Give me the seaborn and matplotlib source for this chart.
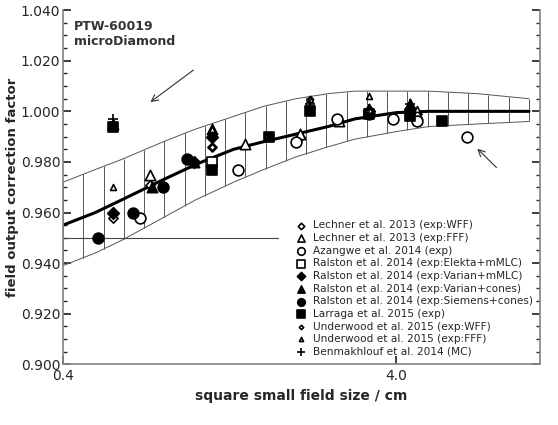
import numpy as np
import matplotlib
matplotlib.use('Agg')
import matplotlib.pyplot as plt
import seaborn as sns
from matplotlib.ticker import FixedLocator, MultipleLocator, NullLocator

sns.set_theme(style='ticks')
plt.rcParams['font.family'] = ['DejaVu Sans']

# fit curve and uncertainty band
fit_x = [0.4, 0.5, 0.6, 0.8, 1.0, 1.3, 1.6, 2.0, 2.5, 3.0, 4.0, 5.0, 7.0, 10.0]
fit_y = [0.955, 0.960, 0.965, 0.973, 0.979, 0.985, 0.988, 0.991, 0.994, 0.997, 0.9995, 1.0, 1.0, 1.0]
up_y = [0.972, 0.977, 0.981, 0.988, 0.993, 0.998, 1.002, 1.005, 1.007, 1.008, 1.008, 1.008, 1.007, 1.005]
lo_y = [0.939, 0.944, 0.949, 0.958, 0.965, 0.972, 0.977, 0.982, 0.986, 0.989, 0.992, 0.994, 0.995, 0.996]

series = {
    'Lechner et al. 2013 (exp:WFF)': ([0.565, 0.565, 0.73, 1.12, 2.06, 2.7, 3.3, 4.6],
                                      [0.960, 0.958, 0.971, 0.986, 0.990, 0.996, 1.000, 0.999]),
    'Lechner et al. 2013 (exp:FFF)': ([0.73, 1.41, 2.06, 2.7, 4.6],
                                      [0.975, 0.987, 0.991, 0.996, 0.999]),
    'Azangwe et al. 2014 (exp)': ([0.68, 1.34, 2.0, 2.65, 3.9, 4.6, 6.5],
                                  [0.958, 0.977, 0.988, 0.997, 0.997, 0.996, 0.990]),
    'Ralston et al. 2014 (exp:Elekta+mMLC)': ([1.12], [0.980]),
    'Ralston et al. 2014 (exp:Varian+mMLC)': ([0.565, 0.99, 1.12, 3.3, 4.4],
                                              [0.960, 0.980, 0.990, 1.000, 1.001]),
    'Ralston et al. 2014 (exp:Varian+cones)': ([0.565, 0.74, 0.99, 1.12, 3.3, 4.4],
                                               [0.995, 0.970, 0.980, 0.993, 1.001, 1.003]),
    'Ralston et al. 2014 (exp:Siemens+cones)': ([0.51, 0.65, 0.8, 0.94, 3.3],
                                                [0.950, 0.960, 0.970, 0.981, 0.999]),
    'Larraga et al. 2015 (exp)': ([0.565, 1.12, 1.66, 2.2, 3.3, 4.4, 5.5],
                                  [0.994, 0.977, 0.990, 1.000, 0.999, 0.998, 0.996]),
    'Underwood et al. 2015 (exp:WFF)': ([1.12, 2.2, 3.3], [0.986, 1.005, 1.000]),
    'Underwood et al. 2015 (exp:FFF)': ([0.565, 1.12, 2.2, 3.3, 4.6],
                                        [0.970, 0.993, 1.005, 1.006, 1.001]),
    'Benmakhlouf et al. 2014 (MC)': ([0.565, 1.12, 2.2, 3.3, 4.4],
                                     [0.997, 0.990, 1.003, 1.001, 1.003]),
}
styles = [
    dict(marker='D', s=22, facecolor='white'),
    dict(marker='^', s=55, facecolor='white'),
    dict(marker='o', s=60, facecolor='white'),
    dict(marker='s', s=55, facecolor='white'),
    dict(marker='D', s=35, facecolor='black'),
    dict(marker='^', s=55, facecolor='black'),
    dict(marker='o', s=60, facecolor='black'),
    dict(marker='s', s=55, facecolor='black'),
    dict(marker='D', s=10, facecolor='white'),
    dict(marker='^', s=18, facecolor='white'),
    dict(marker='+', s=60, facecolor='black'),
]

fig, ax = plt.subplots(figsize=(5.58, 4.25), dpi=100)
fig.subplots_adjust(left=0.113, right=0.968, top=0.976, bottom=0.143)
ax.set_xscale('log')

# band with vertical hatching
ax.plot(fit_x, up_y, color='#555555', lw=0.7)
ax.plot(fit_x, lo_y, color='#555555', lw=0.7)
hx = np.geomspace(0.4, 10.0, 24)
ax.vlines(hx, np.interp(np.log(hx), np.log(fit_x), lo_y),
          np.interp(np.log(hx), np.log(fit_x), up_y), color='#555555', lw=0.7)
sns.lineplot(x=fit_x, y=fit_y, ax=ax, color='black', lw=2.2)
ax.plot([0.4, 1.77], [0.950, 0.950], color='#444444', lw=0.8)

for (label, (xs, ys)), st in zip(series.items(), styles):
    sns.scatterplot(x=xs, y=ys, ax=ax, marker=st['marker'], s=st['s'],
                    facecolor=st['facecolor'], edgecolor='black', linewidth=1.2,
                    color='black', label=label, zorder=5)

ax.annotate('', xy=(0.72, 1.003), xytext=(1.0, 1.017),
            arrowprops=dict(arrowstyle='->', color='#333333', lw=0.8))
ax.annotate('', xy=(6.9, 0.986), xytext=(8.1, 0.977),
            arrowprops=dict(arrowstyle='->', color='#333333', lw=0.8))

ax.text(0.43, 1.036, 'PTW-60019\nmicroDiamond', fontsize=9, fontweight='bold',
        va='top', color='#333333')

ax.set_xlim(0.4, 10.8)
ax.set_ylim(0.900, 1.040)
ax.xaxis.set_major_locator(FixedLocator([0.4, 4.0]))
ax.xaxis.set_minor_locator(NullLocator())
ax.set_xticklabels(['0.4', '4.0'])
ax.yaxis.set_major_locator(MultipleLocator(0.02))
ax.yaxis.set_minor_locator(MultipleLocator(0.005))
ax.yaxis.set_major_formatter(matplotlib.ticker.FormatStrFormatter('%.3f'))
ax.tick_params(axis='y', which='both', direction='in', right=True, labelsize=10, pad=2)
ax.tick_params(axis='y', which='major', length=6)
ax.tick_params(axis='y', which='minor', length=3)
ax.tick_params(axis='x', labelsize=10, direction='in')
ax.spines['top'].set_visible(False)
for s in ['left', 'right', 'bottom']:
    ax.spines[s].set_color('#888888')
ax.set_xlabel('square small field size / cm', fontsize=10, fontweight='bold')
ax.set_ylabel('field output correction factor', fontsize=9.5, fontweight='bold', labelpad=1)

leg = ax.legend(loc='lower right', bbox_to_anchor=(1.0, 0.0), frameon=False,
                fontsize=7.6, handletextpad=0.1, labelspacing=0.25,
                borderaxespad=0.3, markerscale=0.7)
fig.savefig('out.png', dpi=100)
